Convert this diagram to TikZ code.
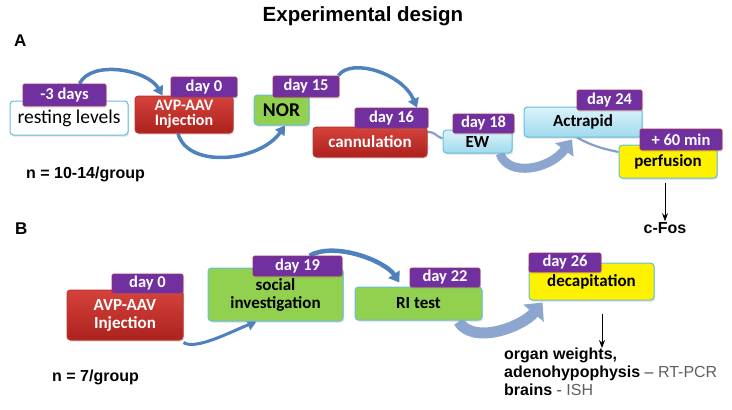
\documentclass[tikz,border=0pt]{standalone}
\usepackage{fontspec}
\setmainfont{Carlito}
\newfontfamily\arialf{Liberation Sans}
\usetikzlibrary{arrows.meta,shadows,backgrounds,calc}
\definecolor{tagpurple}{HTML}{7030A0}
\definecolor{tagborder}{HTML}{A0305E}
\definecolor{redtop}{RGB}{214,66,60}
\definecolor{redbot}{RGB}{172,34,30}
\definecolor{redline}{RGB}{185,55,50}
\definecolor{cyanb}{RGB}{100,190,220}
\definecolor{greenf}{HTML}{92D050}
\definecolor{lbtop}{RGB}{220,243,251}
\definecolor{lbbot}{RGB}{160,218,238}
\definecolor{arrowblue}{RGB}{79,129,189}
\definecolor{arrowlight}{RGB}{140,166,208}
\definecolor{thinline}{RGB}{135,158,200}
\definecolor{greytext}{RGB}{95,95,95}
\definecolor{darkdash}{RGB}{60,60,60}
\begin{document}
\begin{tikzpicture}[x=1pt,y=-1pt,
  shade/.style={drop shadow={opacity=0.25,shadow xshift=1.2pt,shadow yshift=-1.6pt}},
  base/.style={shade, rounded corners=3.5pt, inner sep=0pt, line width=1pt, align=center,
    font=\bfseries\fontsize{17}{18}\selectfont},
  redbox/.style={base, draw=redline, top color=redtop, bottom color=redbot, text=white},
  greenbox/.style={base, draw=cyanb, fill=greenf},
  bluebox/.style={base, draw=cyanb, top color=lbtop, bottom color=lbbot},
  yellowbox/.style={base, draw=cyanb, fill=yellow},
  whitebox/.style={base, draw=cyanb, fill=white, font=\fontsize{19.5}{20}\selectfont},
  tag/.style={shade, inner sep=0pt, rounded corners=1.5pt, fill=tagpurple, draw=tagborder,
    line width=0.8pt, text=white, font=\bfseries\fontsize{16.5}{16.5}\selectfont},
  label/.style={font=\arialf\bfseries\fontsize{16}{18}\selectfont, inner sep=1pt},
  flow/.style={draw=arrowblue, line width=3.5pt, -{Triangle[width=11pt,length=9pt]}},
  thickflow/.style={draw=arrowlight, line width=9pt, -{Triangle[width=22pt,length=13pt]}},
  thinflow/.style={draw=thinline, line width=2.2pt},
  result/.style={-{Stealth[width=6pt,length=8pt]}, line width=0.8pt, draw=black}
]
\useasboundingbox (0,0) rectangle (732,410);

% titles
\node[font=\arialf\bfseries\fontsize{20.5}{22}\selectfont] (title) at (363,16) {Experimental design};
\node[label, font=\arialf\bfseries\fontsize{17}{18}\selectfont, anchor=west] (lA) at (13,41) {A};
\node[label, font=\arialf\bfseries\fontsize{17}{18}\selectfont, anchor=west] (lB) at (14,229) {B};

% ---------- Panel A ----------
\node[whitebox, minimum width=118pt, minimum height=34pt] (rest) at (69,118) {\raisebox{-2pt}{resting levels}};
\node[tag, minimum width=83pt, minimum height=22pt] (trest) at (64.5,95) {-3 days};

\node[redbox, minimum width=98pt, minimum height=37pt, font=\bfseries\fontsize{16}{17}\selectfont] (avpA) at (184,114.5) {\raisebox{-4pt}{\begin{tabular}{@{}c@{}}AVP-AAV\\[-2pt]Injection\end{tabular}}};
\node[tag, minimum width=66pt, minimum height=20pt] (tavpA) at (204,87) {day 0};

\node[greenbox, minimum width=55pt, minimum height=30pt, font=\bfseries\fontsize{19.5}{19}\selectfont] (nor) at (281.5,110) {NOR};
\node[tag, minimum width=66pt, minimum height=21pt] (tnor) at (306,86.5) {day 15};

\node[redbox, minimum width=114pt, minimum height=30pt] (cann) at (370,142) {cannulation};
\node[tag, minimum width=73pt, minimum height=20pt] (tcann) at (391.5,118) {day 16};

\node[bluebox, minimum width=69pt, minimum height=23pt] (ew) at (477.5,141.5) {\raisebox{-3pt}{EW}};
\node[tag, minimum width=61pt, minimum height=19pt] (tew) at (483.5,123.5) {day 18};

\node[bluebox, minimum width=118pt, minimum height=30pt] (act) at (583,122) {Actrapid};
\node[tag, minimum width=65pt, minimum height=20pt] (tact) at (609.5,100) {day 24};

\node[yellowbox, minimum width=98pt, minimum height=33pt] (perf) at (668,161.5) {perfusion};
\node[tag, minimum width=82pt, minimum height=21pt] (tperf) at (681,139.5) {+ 60 min};

\node[label] (cfos) at (665,228) {c-Fos};
\node[label, anchor=west] (nA) at (25,174) {n = 10-14/group};

% ---------- Panel B ----------
\node[redbox, minimum width=116pt, minimum height=50pt] (avpB) at (125,315) {AVP-AAV\\Injection};
\node[tag, minimum width=71pt, minimum height=19pt] (tavpB) at (147.5,283.5) {day 0};

\node[greenbox, minimum width=135pt, minimum height=53pt, text=black] (soc) at (275.5,294.5) {social\\investigation};
\node[tag, minimum width=89pt, minimum height=20pt] (tsoc) at (297.5,266) {day 19};

\node[greenbox, minimum width=127pt, minimum height=33pt] (ri) at (418.5,303.5) {\raisebox{-2pt}{RI test}};
\node[tag, minimum width=70pt, minimum height=19pt] (tri) at (445,277.5) {day 22};

\node[yellowbox, minimum width=125pt, minimum height=37pt] (dec) at (591.5,281.5) {\raisebox{-3pt}{decapitation}};
\node[tag, minimum width=72pt, minimum height=19pt] (tdec) at (565,262.5) {day 26};

\node[label, anchor=north west, align=left, inner sep=0pt] (res) at (504,348)
  {organ weights,\\
   adenohypophysis {\mdseries\color{darkdash}–} {\mdseries\color{greytext}RT-PCR}\\
   brains {\mdseries\color{darkdash}-} {\mdseries\color{greytext}ISH}};
\node[label, anchor=west] (nB) at (51,377) {n = 7/group};

% ---------- connectors ----------
\begin{pgfonlayer}{background}
  % A
  \draw[flow] ([xshift=15pt]trest.north) .. controls +(12,-24) and +(-15,-26) .. ([xshift=28pt]avpA.north west);
  \draw[flow] ([xshift=-6pt]avpA.south) .. controls +(10,36) and +(-25,36) .. ([xshift=3.5pt]nor.south);
  \draw[flow] ([xshift=-1pt]tnor.north east) .. controls +(12,-18) and +(-15,-35) .. ([xshift=25.5pt]tcann.north);
  \draw[thinflow] ([yshift=10pt]cann.east) .. controls +(8,0) and +(-8,-3) .. ([yshift=3pt]ew.west);
  \draw[thickflow] ([xshift=22.5pt]ew.south) .. controls +(8,24) and +(-22,30) .. ([xshift=-11pt,yshift=-2pt]act.south);
  \draw[thinflow] ([xshift=-6pt]act.south) .. controls +(14,8) and +(-15,-3) .. ([yshift=9.5pt]perf.west);
  % B
  \draw[flow, line width=3pt] ([yshift=-2pt]avpB.south east) .. controls +(12,8) and +(-25,10) .. ([xshift=-19pt]soc.south);
  \draw[flow, line width=4.5pt, -{Triangle[width=13pt,length=10pt]}] ([xshift=57pt]tsoc.north west) .. controls +(25,-14) and +(-15,-22) .. ([xshift=45pt,yshift=4pt]ri.north west);
  \draw[thickflow, line width=11pt, -{Triangle[width=26pt,length=14pt]}] ([xshift=40pt,yshift=-1pt]ri.south) .. controls +(15,24) and +(-20,24) .. ([xshift=14pt,yshift=-2pt]dec.south west);
\end{pgfonlayer}

\coordinate (perfarr) at ($(perf.south -| cfos.north)+(0,4)$);
\draw[result] (perfarr) -- (cfos.north);
\coordinate (decarr) at ($(dec.south)+(10.5,13)$);
\draw[result] (decarr) -- (decarr |- res.north);
\end{tikzpicture}
\end{document}
